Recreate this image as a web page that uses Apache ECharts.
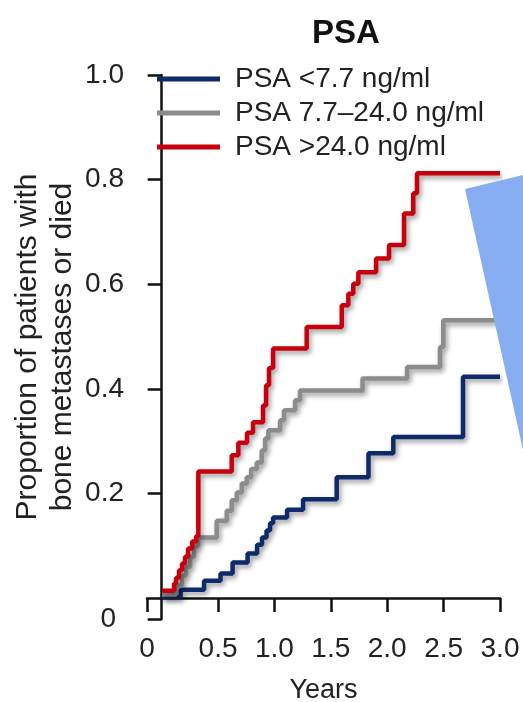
<!DOCTYPE html>
<html><head><meta charset="utf-8">
<script src="https://cdn.jsdelivr.net/npm/echarts@6/dist/echarts.min.js"></script>
<style>html,body{margin:0;padding:0;background:#fff}#c{width:523px;height:702px}</style>
</head><body><div id="c"></div>
<script>
const seriesNames = ['PSA <7.7 ng/ml', 'PSA 7.7\u201324.0 ng/ml', 'PSA >24.0 ng/ml'];
const seriesColors = ['#0f2a6b', '#8c8c8c', '#c8000e'];

const lowYears = [0.004, 0.168, 0.376, 0.522, 0.629, 0.762, 0.846, 0.890, 0.930, 0.961, 0.988, 1.112, 1.254, 1.552, 1.834, 2.054, 2.672, 3.0];
const lowProp  = [0.002, 0.016, 0.033, 0.047, 0.068, 0.085, 0.102, 0.116, 0.129, 0.143, 0.154, 0.169, 0.189, 0.231, 0.277, 0.308, 0.423, 0.423];

const midYears = [0.004, 0.128, 0.181, 0.216, 0.252, 0.287, 0.323, 0.488, 0.577, 0.621, 0.666, 0.710, 0.754, 0.793, 0.843, 0.887, 0.917, 0.946, 1.050, 1.085, 1.183, 1.227, 1.781, 2.176, 2.468, 2.497, 3.0];
const midProp  = [0.007, 0.024, 0.043, 0.060, 0.079, 0.099, 0.116, 0.148, 0.167, 0.187, 0.202, 0.219, 0.231, 0.247, 0.259, 0.282, 0.305, 0.321, 0.340, 0.359, 0.378, 0.397, 0.420, 0.442, 0.480, 0.531, 0.531];

const highYears = [0.004, 0.110, 0.128, 0.154, 0.181, 0.207, 0.234, 0.270, 0.305, 0.325, 0.621, 0.680, 0.757, 0.810, 0.899, 0.926, 0.952, 0.988, 1.286, 1.597, 1.655, 1.699, 1.744, 1.901, 2.016, 2.149, 2.231, 2.264, 3.0];
const highProp  = [0.014, 0.028, 0.039, 0.053, 0.066, 0.079, 0.095, 0.108, 0.118, 0.242, 0.273, 0.297, 0.316, 0.336, 0.368, 0.407, 0.440, 0.477, 0.518, 0.560, 0.582, 0.601, 0.623, 0.649, 0.675, 0.735, 0.774, 0.812, 0.812];

// axis origin is drawn offset from the data's zero, as in the reference
const xTickValues = [-0.13, 0.5, 1.0, 1.5, 2.0, 2.5, 3.0];
const xTickLabels = ['0', '0.5', '1.0', '1.5', '2.0', '2.5', '3.0'];
const yTickValues = [-0.04, 0.2, 0.4, 0.6, 0.8, 1.0];
const yTickLabels = ['0', '0.2', '0.4', '0.6', '0.8', '1.0'];

function pairs(xs, ys) { return xs.map((x, i) => [x, ys[i]]); }
function labelFor(vals, labs, v) {
  for (let i = 0; i < vals.length; i++) if (Math.abs(vals[i] - v) < 1e-6) return labs[i];
  return '';
}

const FONT = 'Liberation Sans, Arial, sans-serif';
const chart = echarts.init(document.getElementById('c'), null, { renderer: 'canvas' });
const allData = [pairs(lowYears, lowProp), pairs(midYears, midProp), pairs(highYears, highProp)];

chart.setOption({
  animation: false,
  backgroundColor: '#ffffff',
  title: {
    text: 'PSA', left: 341, top: 12, textAlign: 'center',
    textStyle: { fontFamily: FONT, fontSize: 33, fontWeight: 'bold', color: '#111' }
  },
  legend: {
    orient: 'vertical', left: 152, top: 60, itemGap: 6,
    icon: 'rect', itemWidth: 63, itemHeight: 5,
    data: seriesNames,
    textStyle: { fontFamily: FONT, fontSize: 28, color: '#222', padding: [0, 0, 0, 10] }
  },
  grid: { left: 147, right: 23, top: 75, bottom: 83, containLabel: false, outerBoundsMode: 'none' },
  xAxis: {
    type: 'value', min: xTickValues[0], max: 3.0,
    name: 'Years', nameLocation: 'middle', nameGap: 58, nameMoveOverlap: false,
    nameTextStyle: { fontFamily: FONT, fontSize: 27, color: '#222' },
    axisLine: { show: true, lineStyle: { color: '#111', width: 2.5 } },
    axisTick: { show: true, length: 14, lineStyle: { color: '#111', width: 2.5 }, customValues: xTickValues },
    axisLabel: { fontFamily: FONT, fontSize: 28, color: '#222', margin: 16, customValues: xTickValues,
      formatter: v => labelFor(xTickValues, xTickLabels, v) },
    splitLine: { show: false }
  },
  yAxis: {
    type: 'value', min: yTickValues[0], max: 1.0,
    name: 'Proportion of patients with\nbone metastases or died',
    nameLocation: 'middle', nameGap: 67, nameRotate: 90, nameMoveOverlap: false,
    nameTextStyle: { fontFamily: FONT, fontSize: 30, color: '#222', lineHeight: 35, align: 'center' },
    axisLine: { show: true, lineStyle: { color: '#111', width: 2.5 } },
    axisTick: { show: true, length: 14, lineStyle: { color: '#111', width: 2.5 }, customValues: yTickValues },
    axisLabel: { fontFamily: FONT, fontSize: 28, color: '#222', margin: 23, customValues: yTickValues,
      formatter: v => { const t = labelFor(yTickValues, yTickLabels, v); return v < 0 ? '{z|' + t + '}' : t; },
      rich: { z: { fontFamily: FONT, fontSize: 28, color: '#222', padding: [0, 8, 0, 0] } } },
    splitLine: { show: false }
  },
  series: allData.map((d, i) => ({
    name: seriesNames[i], type: 'line', step: 'end', data: d, showSymbol: false, symbol: 'none',
    color: seriesColors[i],
    lineStyle: { color: seriesColors[i], width: 4.5, shadowColor: 'rgba(0,0,0,0.4)', shadowBlur: 5, shadowOffsetX: 2, shadowOffsetY: 3 },
    z: 2 + i
  })),
  graphic: [{
    type: 'polygon', z: 100,
    shape: { points: [[465, 189], [523, 175], [523, 450]] },
    style: { fill: '#87aef0' }
  }]
});
</script>
</body></html>
